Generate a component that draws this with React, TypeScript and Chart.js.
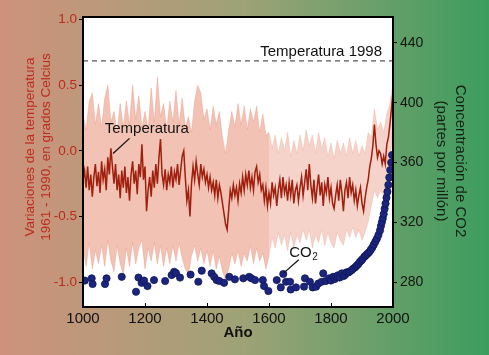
import React, { useEffect, useRef } from "react";
import { Chart, registerables } from "chart.js";
Chart.register(...registerables);

// Temperature anomaly (°C, relative to 1961-1990), every 5 years from 1000 to 2000
const TEMP_START = 1000;
const TEMP_STEP = 5;
const TEMP = [
  -0.22, -0.15, -0.28, -0.12, -0.30, -0.18, -0.35, -0.20, -0.10, -0.27, -0.16,
  -0.32, -0.08, -0.22, -0.14, -0.30, -0.05, -0.18, 0.02, -0.12, -0.25,
  -0.10, -0.30, -0.18, -0.36, -0.15, -0.28, -0.12, -0.32, -0.20, -0.38,
  -0.18, -0.08, -0.25, -0.15, -0.33, -0.10, -0.20, 0.05, -0.22, -0.12,
  -0.46, -0.30, -0.20, -0.35, -0.15, -0.28, -0.10, -0.25, -0.05, 0.09,
  -0.18, -0.26, -0.14, -0.30, -0.18, -0.24, -0.12, -0.28, -0.16, -0.22,
  -0.10, -0.26, -0.15, -0.04, 0.00, -0.20, -0.38, -0.30, -0.50, -0.25,
  -0.12, -0.22, -0.08, -0.18, -0.26, -0.10, -0.20, -0.14, -0.24, -0.18,
  -0.28, -0.20, -0.30, -0.24, -0.34, -0.22, -0.36, -0.26, -0.32, -0.40,
  -0.48, -0.56, -0.60, -0.45, -0.30, -0.36, -0.26, -0.34, -0.28, -0.38,
  -0.25, -0.32, -0.20, -0.30, -0.18, -0.26, -0.15, -0.28, -0.20, -0.30,
  -0.16, -0.12, -0.24, -0.18, -0.30, -0.26, -0.38, -0.28, -0.42, -0.32,
  -0.40, -0.24, -0.34, -0.28, -0.42, -0.30, -0.22, -0.36, -0.20, -0.32,
  -0.26, -0.38, -0.24, -0.34, -0.22, -0.40, -0.30, -0.26, -0.38, -0.28,
  -0.20, -0.34, -0.24, -0.14, -0.30, -0.10, -0.26, -0.36, -0.22, -0.40,
  -0.28, -0.18, -0.34, -0.24, -0.42, -0.26, -0.32, -0.20, -0.36, -0.28,
  -0.40, -0.44, -0.34, -0.26, -0.38, -0.22, -0.32, -0.46, -0.30, -0.24,
  -0.36, -0.20, -0.32, -0.26, -0.38, -0.30, -0.42, -0.34, -0.28, -0.40,
  -0.46, -0.36, -0.28, -0.22, -0.12, -0.06, 0.04, 0.20, 0.05, -0.05,
  0.00, -0.02, -0.10, -0.04, -0.10, 0.05, 0.10, 0.20, 0.32, 0.45,
];

// Uncertainty band, every 10 years from 1000 to 2000
const BAND_START = 1000;
const BAND_STEP = 10;
const BAND_SPLIT_YEAR = 1600;
const BAND_UPPER = [
  0.28, 0.16, 0.38, 0.44, 0.20, 0.36, 0.18, 0.40, 0.50, 0.22,
  0.30, 0.14, 0.36, 0.18, 0.38, 0.20, 0.50, 0.24, 0.42, 0.18,
  0.30, 0.16, 0.48, 0.22, 0.56, 0.26, 0.36, 0.16, 0.38, 0.22,
  0.46, 0.20, 0.40, 0.18, 0.26, 0.14, 0.38, 0.50, 0.44, 0.24,
  0.32, 0.16, 0.34, 0.20, 0.30, 0.10, -0.02, 0.16, 0.30, 0.18,
  0.36, 0.20, 0.34, 0.16, 0.32, 0.22, 0.34, 0.14, 0.28, 0.12,
  0.14, 0.02, 0.12, -0.02, 0.10, 0.00, 0.14, -0.04, 0.08, -0.02,
  0.12, 0.00, 0.16, 0.04, 0.12, -0.02, 0.14, 0.02, 0.10, -0.04,
  0.06, -0.06, 0.08, -0.02, 0.06, -0.04, 0.10, -0.02, 0.08, -0.04,
  0.04, -0.02, 0.14, 0.10, 0.32, 0.16, 0.22, 0.14, 0.28, 0.36, 0.52,
];
const BAND_LOWER = [
  -0.74, -0.88, -0.70, -0.90, -0.76, -0.86, -0.72, -0.88, -0.68, -0.84,
  -0.92, -0.72, -0.86, -0.94, -0.74, -0.88, -0.70, -0.86, -0.74, -0.68,
  -0.90, -0.74, -0.84, -0.70, -0.86, -0.72, -0.88, -0.74, -0.86, -0.72,
  -0.84, -0.70, -0.82, -0.90, -0.94, -0.80, -0.72, -0.84, -0.74, -0.86,
  -0.76, -0.88, -0.76, -0.90, -0.80, -0.92, -0.98, -0.90, -0.78, -0.86,
  -0.76, -0.88, -0.78, -0.84, -0.72, -0.86, -0.74, -0.84, -0.78, -0.90,
  -0.80, -0.66, -0.74, -0.62, -0.72, -0.64, -0.76, -0.62, -0.74, -0.64,
  -0.70, -0.60, -0.68, -0.60, -0.74, -0.64, -0.70, -0.60, -0.72, -0.62,
  -0.70, -0.74, -0.62, -0.68, -0.72, -0.60, -0.66, -0.58, -0.66, -0.60,
  -0.68, -0.62, -0.54, -0.42, -0.30, -0.36, -0.30, -0.34, -0.20, -0.12, 0.20,
];

// Temperature 1998 reference level
const RECORD_1998 = 0.685;

// CO2 concentration (ppm)
const CO2_YEARS = [
  1006, 1028, 1031, 1071, 1076, 1125, 1171, 1179, 1189, 1197, 1208, 1229, 1265,
  1286, 1294, 1300, 1313, 1347, 1372, 1383, 1415, 1423, 1431, 1440, 1455, 1472,
  1490, 1517, 1536, 1543, 1555, 1580, 1584, 1598, 1625, 1638, 1646, 1655, 1668,
  1670, 1687, 1713, 1716, 1732, 1741, 1752, 1759, 1770, 1775, 1783, 1794, 1800,
  1807, 1812, 1817, 1822, 1828, 1835, 1840, 1845, 1850, 1856, 1860, 1867, 1872,
  1878, 1883, 1888, 1893, 1898, 1902, 1908, 1913, 1918, 1923, 1928, 1933, 1938,
  1943, 1948, 1953, 1958, 1961, 1964, 1967, 1970, 1973, 1976, 1979, 1982, 1985,
  1988, 1991, 1994, 1997,
];
const CO2_PPM = [
  281, 282.5, 278.7, 278.7, 282.5, 283.5, 273.5, 283, 279.5, 281, 277.3, 281.3, 280.7,
  284.7, 286.9, 286, 283, 285, 280.2, 287.6, 285.8, 283.5, 281.3, 280.7, 279.5, 283.5,
  281.8, 282.5, 283.5, 282.5, 281.3, 281.3, 277.3, 274, 281.3, 276.4, 285.4, 280.2, 280.2,
  275, 276.4, 276.9, 282.5, 280.2, 276.4, 276.9, 279, 280.2, 285.8, 280.7, 282.5, 281,
  283.5, 282, 283.5, 284.5, 283, 285.8, 284, 284.7, 286.5, 286.4, 287, 288, 289,
  289.9, 291, 292, 293.5, 294.5, 295.5, 297, 298, 299, 300, 301.5, 303, 305,
  307, 309, 311.5, 314.5, 317.5, 320, 322.5, 325.5, 329, 332.5, 336.5, 340.5, 345,
  350, 355, 360, 365,
];

const X_TICKS = [1000, 1200, 1400, 1600, 1800, 2000];
const TEMP_TICKS = [-1.0, -0.5, 0.0, 0.5, 1.0];
const CO2_TICKS = [280, 320, 360, 400, 440];

const FONT = "'Liberation Sans', Arial, Helvetica, sans-serif";

const tempPoints = TEMP.map((v, i) => ({ x: TEMP_START + i * TEMP_STEP, y: v }));
const bandPts = (arr: number[]) => arr.map((v, i) => ({ x: BAND_START + i * BAND_STEP, y: v }));
const upperAll = bandPts(BAND_UPPER);
const lowerAll = bandPts(BAND_LOWER);
const early = (p: { x: number }) => p.x <= BAND_SPLIT_YEAR;
const late = (p: { x: number }) => p.x >= BAND_SPLIT_YEAR;
const co2Points = CO2_YEARS.map((yr, i) => ({ x: yr, y: CO2_PPM[i] }));

const decor = {
  id: "decor",
  beforeDraw(chart: any) {
    const { ctx, width, height, chartArea: a } = chart;
    ctx.save();
    const g = ctx.createLinearGradient(0, 0, width, 0);
    g.addColorStop(0, "#cf927c");
    g.addColorStop(0.5, "#9ea276");
    g.addColorStop(1, "#3c9d5f");
    ctx.fillStyle = g;
    ctx.fillRect(0, 0, width, height);
    ctx.fillStyle = "#ffffff";
    ctx.fillRect(a.left, a.top, a.right - a.left, a.bottom - a.top);
    ctx.restore();
  },
  afterDraw(chart: any) {
    const { ctx, chartArea: a, scales } = chart;
    const xs = scales.x;
    const ys = scales.y;
    ctx.save();
    // x inner tick marks
    ctx.strokeStyle = "#000";
    ctx.lineWidth = 1;
    X_TICKS.forEach((v) => {
      const px = Math.round(xs.getPixelForValue(v)) + 0.5;
      ctx.beginPath();
      ctx.moveTo(px, a.bottom);
      ctx.lineTo(px, a.bottom - 4);
      ctx.stroke();
    });
    // frame
    ctx.lineWidth = 2;
    ctx.strokeStyle = "#000";
    ctx.strokeRect(a.left, a.top, a.right - a.left, a.bottom - a.top);

    // annotations
    ctx.fillStyle = "#111";
    ctx.font = `15px ${FONT}`;
    ctx.textBaseline = "middle";
    ctx.textAlign = "right";
    ctx.fillText("Temperatura 1998", a.right - 11, ys.getPixelForValue(RECORD_1998) - 9);

    ctx.textAlign = "left";
    ctx.fillText("Temperatura", xs.getPixelForValue(1070), ys.getPixelForValue(0.165));
    ctx.lineWidth = 1.3;
    ctx.strokeStyle = "#111";
    ctx.beginPath();
    ctx.moveTo(xs.getPixelForValue(1097), ys.getPixelForValue(-0.02));
    ctx.lineTo(xs.getPixelForValue(1150), ys.getPixelForValue(0.095));
    ctx.stroke();

    // CO2 label
    const cx = xs.getPixelForValue(1665);
    const cy = ys.getPixelForValue(-0.78);
    ctx.fillText("CO", cx, cy);
    const w = ctx.measureText("CO").width;
    ctx.font = `10px ${FONT}`;
    ctx.fillText("2", cx + w + 0.5, cy + 4);
    ctx.beginPath();
    ctx.moveTo(xs.getPixelForValue(1648), ys.getPixelForValue(-0.93));
    ctx.lineTo(xs.getPixelForValue(1696), ys.getPixelForValue(-0.83));
    ctx.stroke();

    // x title
    ctx.font = `bold 15px ${FONT}`;
    ctx.textAlign = "center";
    ctx.fillStyle = "#111";
    ctx.fillText("Año", (a.left + a.right) / 2, 333);

    // left title
    ctx.save();
    ctx.translate(38, 147);
    ctx.rotate(-Math.PI / 2);
    ctx.font = `13.5px ${FONT}`;
    ctx.fillStyle = "#bd2a1e";
    ctx.textAlign = "center";
    ctx.fillText("Variaciones de la temperatura", 0, -8);
    ctx.fillText("1961 - 1990, en grados Celcius", 0, 8);
    ctx.restore();

    // right title
    ctx.save();
    ctx.translate(450, 161);
    ctx.rotate(Math.PI / 2);
    ctx.font = `15px ${FONT}`;
    ctx.fillStyle = "#152015";
    ctx.textAlign = "center";
    ctx.fillText("Concentración de CO2", 0, -10);
    ctx.fillText("(partes por millón)", 0, 9);
    ctx.restore();

    ctx.restore();
  },
};

export default function App() {
  const ref = useRef<HTMLCanvasElement>(null);
  useEffect(() => {
    document.body.style.margin = "0";
    const chart = new Chart(ref.current as HTMLCanvasElement, {
      type: "line",
      data: {
        datasets: [
          {
            label: "CO2",
            data: co2Points,
            yAxisID: "y1",
            showLine: false,
            pointRadius: 3.6,
            pointBackgroundColor: "#1b2580",
            pointBorderColor: "#0e1656",
            pointBorderWidth: 0.8,
            order: 0,
          } as any,
          {
            label: "Temperatura",
            data: tempPoints,
            yAxisID: "y",
            borderColor: "#a01f0d",
            borderWidth: 1.5,
            pointRadius: 0,
            tension: 0,
            order: 1,
          },
          {
            label: "1998",
            data: [
              { x: 1000, y: RECORD_1998 },
              { x: 2000, y: RECORD_1998 },
            ],
            yAxisID: "y",
            borderColor: "#555",
            borderWidth: 1.3,
            borderDash: [5, 4],
            pointRadius: 0,
            order: 2,
          },
          {
            label: "upperEarly",
            data: upperAll.filter(early),
            yAxisID: "y",
            borderColor: "rgba(232,150,130,0.5)",
            borderWidth: 0.8,
            pointRadius: 0,
            fill: "+1",
            backgroundColor: "rgba(232,145,120,0.55)",
            order: 3,
          },
          {
            label: "lowerEarly",
            data: lowerAll.filter(early),
            yAxisID: "y",
            borderColor: "rgba(232,150,130,0.5)",
            borderWidth: 0.8,
            pointRadius: 0,
            fill: false,
            order: 4,
          },
          {
            label: "upperLate",
            data: upperAll.filter(late),
            yAxisID: "y",
            borderColor: "rgba(236,160,140,0.4)",
            borderWidth: 0.8,
            pointRadius: 0,
            fill: "+1",
            backgroundColor: "rgba(234,150,128,0.42)",
            order: 5,
          },
          {
            label: "lowerLate",
            data: lowerAll.filter(late),
            yAxisID: "y",
            borderColor: "rgba(236,160,140,0.4)",
            borderWidth: 0.8,
            pointRadius: 0,
            fill: false,
            order: 6,
          },
        ],
      },
      options: {
        responsive: false,
        animation: false,
        devicePixelRatio: 1,
        layout: { padding: { top: 17, left: 0, right: 0, bottom: 0 } },
        plugins: {
          legend: { display: false },
          tooltip: { enabled: false },
        },
        scales: {
          x: {
            type: "linear",
            min: 1000,
            max: 2000,
            afterBuildTicks: (s: any) => {
              s.ticks = X_TICKS.map((v) => ({ value: v }));
            },
            afterFit: (s: any) => {
              s.height = 48;
            },
            ticks: {
              color: "#111",
              font: { family: FONT, size: 15 },
              padding: 3,
              maxRotation: 0,
              autoSkip: false,
              callback: (v: any) => String(v),
            },
            grid: { display: false, drawTicks: false },
            border: { display: false },
          },
          y: {
            type: "linear",
            position: "left",
            min: -1.19,
            max: 1.02,
            afterBuildTicks: (s: any) => {
              s.ticks = TEMP_TICKS.map((v) => ({ value: v }));
            },
            afterFit: (s: any) => {
              s.width = 83;
            },
            ticks: {
              color: "#bd2a1e",
              font: { family: FONT, size: 13.5 },
              padding: 2,
              callback: (v: any) => Number(v).toFixed(1),
            },
            grid: {
              drawOnChartArea: false,
              drawTicks: true,
              tickLength: 4,
              color: "#000",
            },
            border: { display: false },
          },
          y1: {
            type: "linear",
            position: "right",
            min: 263.3,
            max: 457.4,
            afterBuildTicks: (s: any) => {
              s.ticks = CO2_TICKS.map((v) => ({ value: v }));
            },
            afterFit: (s: any) => {
              s.width = 96;
            },
            ticks: {
              color: "#151515",
              font: { family: FONT, size: 14 },
              padding: 3,
              callback: (v: any) => String(v),
            },
            grid: {
              drawOnChartArea: false,
              drawTicks: true,
              tickLength: 4,
              color: "#000",
            },
            border: { display: false },
          },
        },
      },
      plugins: [decor],
    } as any);
    return () => chart.destroy();
  }, []);
  return (
    <div style={{ position: "fixed", left: 0, top: 0, width: 489, height: 355 }}>
      <canvas ref={ref} width={489} height={355} style={{ display: "block" }} />
    </div>
  );
}
